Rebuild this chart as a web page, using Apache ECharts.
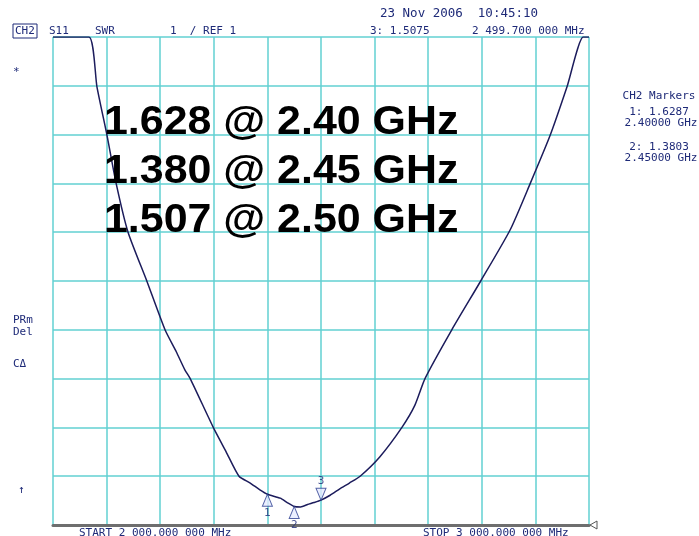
<!DOCTYPE html>
<html>
<head>
<meta charset="utf-8">
<script src="https://cdn.jsdelivr.net/npm/echarts@6/dist/echarts.min.js"></script>
<style>html,body{margin:0;padding:0;background:#fff}#c{width:699px;height:536px}</style>
</head>
<body>
<div id="c"></div>
<script>
// Trace data (frequency MHz, SWR); values above 11 are shown clamped at the top
const freqMHz = [2000, 2067, 2082, 2101, 2118, 2140, 2175, 2209, 2230, 2246, 2256, 2299, 2323, 2347, 2368, 2386, 2400, 2424, 2437, 2450, 2462, 2475, 2487, 2500, 2517, 2535, 2553, 2573, 2610, 2651, 2675, 2694, 2744, 2798, 2853, 2890, 2927, 2959, 2989, 3000];
const swr     = [11,   11,   9.98, 8.97, 7.99, 7.0,  6.0,  5.0,  4.55, 4.18, 4.0,  3.0,  2.5,  2.0,  1.86, 1.72, 1.63, 1.55, 1.46, 1.38, 1.37, 1.42, 1.46, 1.51, 1.61, 1.74, 1.86, 2.0,  2.4,  3.0,  3.45, 4.0,  5.0,  6.0,  7.05, 7.99, 8.97, 9.98, 11,   11];

// Markers
const markerNames = ['1', '2', '3'];
const markerFreq  = [2400, 2450, 2500];
const markerSwr   = [1.6287, 1.3803, 1.5075];

// Annotations
const bigLines = ['1.628 @ 2.40 GHz', '1.380 @ 2.45 GHz', '1.507 @ 2.50 GHz'];

const navy = '#1e2a78';
const mono = '"DejaVu Sans Mono", monospace';

const chart = echarts.init(document.getElementById('c'));
const traceData = freqMHz.map((f, i) => [f, swr[i]]);

function monoText(x, y, text, size, align) {
  return { type: 'text', x: x, y: y, style: { text: text, font: (size || 11) + 'px ' + mono, fill: navy, align: align || 'left', verticalAlign: 'middle' }, z: 10 };
}

const graphics = [
  monoText(380, 14, '23 Nov 2006  10:45:10', 12.5),
  monoText(15, 31, 'CH2'),
  { type: 'rect', shape: { x: 13, y: 24, width: 24, height: 14 }, style: { fill: 'none', stroke: navy, lineWidth: 1 }, z: 10 },
  monoText(49, 31, 'S11'),
  monoText(95, 31, 'SWR'),
  monoText(170, 31, '1  / REF 1'),
  monoText(370, 31, '3: 1.5075'),
  monoText(472, 31, '2 499.700 000 MHz'),
  monoText(13, 72, '*'),
  monoText(13, 320, 'PRm'),
  monoText(13, 332, 'Del'),
  monoText(13, 364, 'CΔ'),
  monoText(18, 490, '↑'),
  monoText(79, 533, 'START 2 000.000 000 MHz'),
  monoText(423, 533, 'STOP 3 000.000 000 MHz'),
  monoText(659, 96, 'CH2 Markers', 11, 'center'),
  monoText(659, 112, '1: 1.6287', 11, 'center'),
  monoText(661, 123, '2.40000 GHz', 11, 'center'),
  monoText(659, 147, '2: 1.3803', 11, 'center'),
  monoText(661, 158, '2.45000 GHz', 11, 'center'),
  { type: 'polygon', shape: { points: [[590, 525], [597, 521], [597, 529]] }, style: { fill: '#fff', stroke: '#555', lineWidth: 1 }, z: 10 }
];
bigLines.forEach((t, i) => {
  graphics.push({ type: 'text', x: 104, y: 103 + i * 49, scaleX: 1.073, style: { text: t, font: 'bold 40px "Liberation Sans", Arial, sans-serif', fill: '#000', verticalAlign: 'alphabetic' }, z: 20 });
});

chart.setOption({
  animation: false,
  backgroundColor: '#fff',
  grid: { left: 53, right: 110, top: 37, bottom: 11, containLabel: false },
  xAxis: {
    type: 'value', min: 2000, max: 3000, interval: 100,
    axisLine: { show: true, lineStyle: { color: '#6e6e6e', width: 3 } },
    axisTick: { show: false }, axisLabel: { show: false },
    splitLine: { show: true, lineStyle: { color: '#62d0d2', width: 1.5 } }
  },
  yAxis: {
    type: 'value', min: 1, max: 11, interval: 1,
    axisLine: { show: false }, axisTick: { show: false }, axisLabel: { show: false },
    splitLine: { show: true, lineStyle: { color: '#62d0d2', width: 1.5 } }
  },
  series: [
    {
      type: 'line', data: traceData, symbol: 'none', smooth: 0.2,
      lineStyle: { color: '#1c1c5c', width: 1.5 }, z: 5
    },
    {
      type: 'scatter', z: 6,
      data: markerFreq.map((f, i) => ({
        value: [f, markerSwr[i]],
        symbolRotate: i === 2 ? 180 : 0,
        symbolOffset: i === 2 ? [0, -6] : [0, 6],
        label: { show: true, formatter: markerNames[i], position: i === 2 ? 'top' : 'bottom', distance: 1, color: navy, fontFamily: mono, fontSize: 11 }
      })),
      symbol: 'triangle', symbolSize: [10, 12],
      itemStyle: { color: '#e6ebff', borderColor: '#2a3c90', borderWidth: 1 }
    }
  ],
  graphic: graphics
});
</script>
</body>
</html>
